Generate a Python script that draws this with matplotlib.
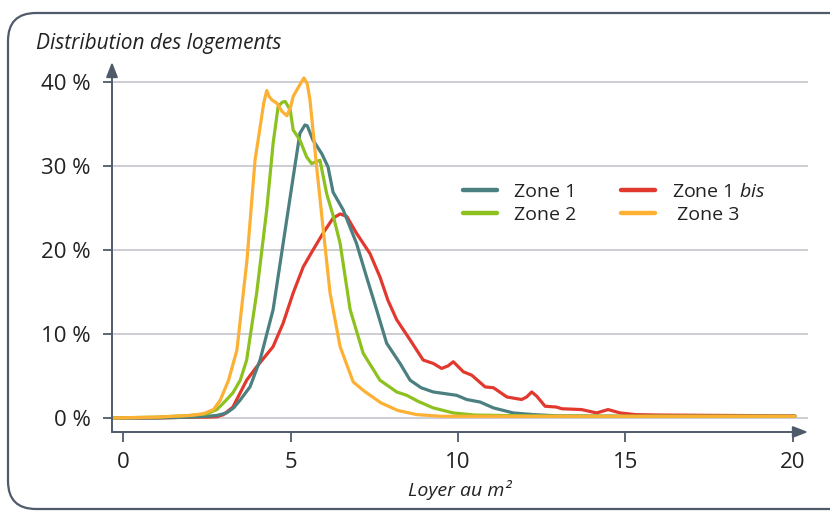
import matplotlib
matplotlib.use("Agg")
import matplotlib.pyplot as plt
from matplotlib.patches import FancyBboxPatch
from matplotlib.lines import Line2D

plt.rcParams['font.family'] = ['Open Sans', 'DejaVu Sans']
plt.rcParams['mathtext.fontset'] = 'custom'
plt.rcParams['mathtext.it'] = 'Open Sans:italic'
plt.rcParams['mathtext.rm'] = 'Open Sans'

# ---- data ----
x_zone3 = [-0.33, 1.0, 2.0, 2.4, 2.7, 2.9, 3.15, 3.4, 3.7, 3.94, 4.09, 4.2, 4.29, 4.36, 4.44, 4.59, 4.75,
           4.89, 5.0, 5.08, 5.25, 5.40, 5.5, 5.58, 5.78, 5.97, 6.18, 6.48, 6.87, 7.2, 7.7, 8.2, 8.77,
           9.5, 11, 15, 20.06]
y_zone3 = [0, 0.1, 0.3, 0.5, 1.0, 2.1, 4.5, 8.1, 18.8, 30.7, 34.6, 37.5, 39.0, 38.3, 37.9, 37.5, 36.5,
           36.0, 37.0, 38.3, 39.5, 40.5, 39.8, 37.9, 29.9, 22.7, 14.9, 8.5, 4.3, 3.2, 1.8, 0.9, 0.4,
           0.2, 0.2, 0.2, 0.2]

x_zone2 = [-0.33, 1.0, 2.0, 2.5, 2.8, 3.05, 3.28, 3.5, 3.69, 3.99, 4.29, 4.48, 4.63, 4.75, 4.84, 4.99,
           5.08, 5.28, 5.48, 5.63, 5.75, 5.88, 6.08, 6.28, 6.48, 6.78, 7.17, 7.67, 8.17, 8.47, 8.8,
           9.26, 9.86, 10.5, 12, 15, 20.06]
y_zone2 = [0, 0.1, 0.3, 0.5, 1.0, 2.0, 3.0, 4.5, 6.9, 14.9, 24.8, 32.7, 37.1, 37.6, 37.7, 36.7,
           34.3, 33.1, 31.1, 30.3, 30.5, 30.7, 26.7, 24.0, 20.8, 12.9, 7.7, 4.5, 3.1, 2.7, 2.0,
           1.2, 0.6, 0.35, 0.25, 0.2, 0.2]

x_zone1 = [-0.33, 1.0, 2.0, 2.5, 2.8, 3.09, 3.3, 3.49, 3.79, 4.09, 4.48, 4.78, 5.08, 5.28, 5.43, 5.5,
           5.67, 5.93, 6.12, 6.27, 6.57, 6.97, 7.27, 7.57, 7.87, 8.27, 8.57, 8.9, 9.26, 9.96, 10.26,
           10.66, 11.06, 11.65, 12.25, 13, 15, 20.06]
y_zone1 = [0, 0.0, 0.1, 0.2, 0.3, 0.6, 1.2, 2.1, 3.7, 6.9, 12.9, 20.8, 28.7, 33.9, 34.9, 34.8,
           33.1, 31.5, 29.9, 26.9, 24.8, 20.8, 16.8, 12.9, 8.9, 6.5, 4.5, 3.6, 3.1, 2.7, 2.2,
           1.9, 1.2, 0.6, 0.4, 0.25, 0.2, 0.2]

x_zone1bis = [-0.33, 1.0, 2.0, 2.5, 2.8, 3.0, 3.28, 3.69, 3.99, 4.48, 4.78, 5.08, 5.38, 5.67, 5.97,
              6.27, 6.48, 6.68, 6.97, 7.37, 7.67, 7.91, 8.17, 8.57, 8.96, 9.26, 9.51, 9.7, 9.86,
              10.16, 10.41, 10.81, 11.06, 11.46, 11.9, 12.05, 12.2, 12.35, 12.6, 12.94, 13.1,
              13.69, 14.14, 14.48, 14.84, 15.3, 16, 18, 20.06]
y_zone1bis = [0, 0.0, 0.1, 0.1, 0.15, 0.4, 1.3, 4.5, 6.1, 8.5, 11.3, 14.9, 18.0, 20.0, 22.0,
              23.8, 24.3, 24.0, 22.0, 19.6, 16.8, 14.0, 11.7, 9.3, 6.9, 6.5, 5.9, 6.2, 6.7,
              5.5, 5.1, 3.7, 3.6, 2.5, 2.2, 2.5, 3.1, 2.6, 1.4, 1.3, 1.1,
              1.0, 0.6, 1.0, 0.6, 0.4, 0.35, 0.3, 0.25]

x_ticks = [0, 5, 10, 15, 20]
y_ticks = [0, 10, 20, 30, 40]
y_tick_labels = ["0 %", "10 %", "20 %", "30 %", "40 %"]
series_labels = ["Zone 1", "Zone 2", "Zone 1 $\\it{bis}$", " Zone 3"]

# ---- style ----
c_teal = "#4b7f80"
c_green = "#8cc11f"
c_red = "#e2392f"
c_orange = "#fcb034"
c_axis = "#4f5a6b"
c_grid = "#c9cad0"
c_text = "#222222"

W, H = 830, 512
fig = plt.figure(figsize=(W / 100, H / 100), dpi=100)

# rounded frame (pixel coordinates / 100 -> inches)
frame = FancyBboxPatch((8 / 100, 3 / 100), 860 / 100, (499 - 3) / 100,
                       boxstyle="round,pad=0,rounding_size=0.28",
                       transform=fig.dpi_scale_trans, fill=False,
                       edgecolor=c_axis, linewidth=1.6)
frame.set_clip_on(False)
fig.patches.append(frame)

ax = fig.add_axes([112 / W, 1 - 432 / H, (808 - 112) / W, (432 - 62) / H])
ax.set_xlim(-0.33, 20.45)
ax.set_ylim(-1.67, 42.4)
for s in ax.spines.values():
    s.set_visible(False)
ax.patch.set_alpha(0)

# grid lines
for yv in y_ticks:
    ax.axhline(yv, color=c_grid, lw=1.3, zorder=1)

lw = 2.3
kw = dict(lw=lw, zorder=3, solid_joinstyle='round', solid_capstyle='round')
ax.plot(x_zone1bis, y_zone1bis, color=c_red, **kw)
ax.plot(x_zone1, y_zone1, color=c_teal, **kw)
ax.plot(x_zone2, y_zone2, color=c_green, **kw)
ax.plot(x_zone3, y_zone3, color=c_orange, **kw)

# axes with arrows
ax.annotate("", xy=(20.45, -1.67), xytext=(-0.33, -1.67), xycoords='data',
            arrowprops=dict(arrowstyle="-|>,head_length=0.9,head_width=0.35", color=c_axis, lw=1.4,
                            shrinkA=0, shrinkB=0), annotation_clip=False)
ax.annotate("", xy=(-0.33, 42.4), xytext=(-0.33, -1.67), xycoords='data',
            arrowprops=dict(arrowstyle="-|>,head_length=0.9,head_width=0.35", color=c_axis, lw=1.4,
                            shrinkA=0, shrinkB=0), annotation_clip=False)

ax.set_xticks(x_ticks)
ax.set_xticklabels([str(v) for v in x_ticks])
ax.set_yticks(y_ticks)
ax.set_yticklabels(y_tick_labels)
ax.tick_params(axis='x', direction='out', length=7.5, width=1.3, color=c_axis, pad=7,
               labelsize=16, labelcolor=c_text)
ax.tick_params(axis='y', direction='out', length=6.5, width=1.3, color=c_axis, pad=9,
               labelsize=16, labelcolor=c_text)

ax.set_xlabel("Loyer au m²", fontsize=14, style='italic', color=c_text, labelpad=5)

fig.text(36 / W, 1 - 43 / H, "Distribution des logements", fontsize=15, style='italic',
         color=c_text, va='center', ha='left')

handles = [Line2D([], [], color=c, lw=3.2, solid_capstyle='round') for c in (c_teal, c_green, c_red, c_orange)]
leg = fig.legend(handles, series_labels, ncol=2, loc='upper left',
                 bbox_to_anchor=(463 / W, 1 - 183 / H), frameon=False, fontsize=14,
                 handlelength=1.75, handletextpad=0.88, columnspacing=2.3, labelspacing=0.25,
                 borderpad=0, borderaxespad=0)
for t in leg.get_texts():
    t.set_color(c_text)

fig.savefig("out.png", dpi=100)
